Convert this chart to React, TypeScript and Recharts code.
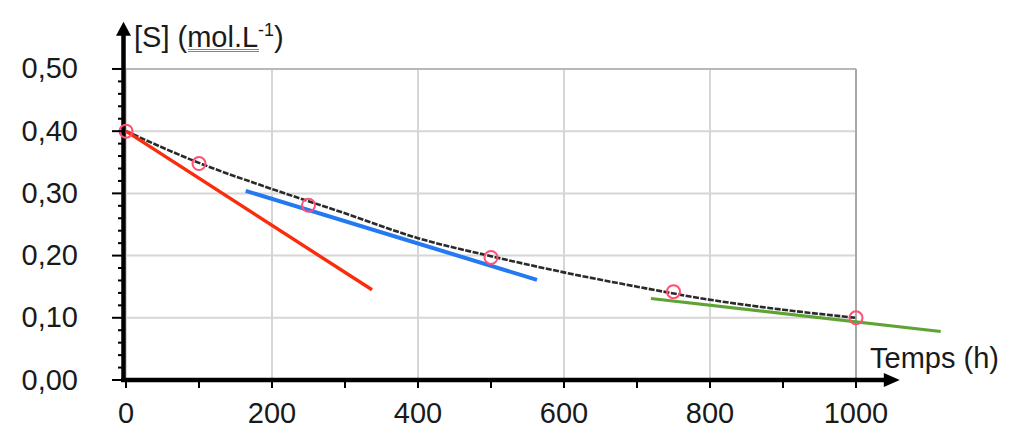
import React from 'react';
import { ComposedChart, Line, Scatter, XAxis, YAxis, ReferenceLine } from 'recharts';

// measured points (red circles)
const measures = [
  { x: 0, y: 0.4 },
  { x: 100, y: 0.348 },
  { x: 250, y: 0.281 },
  { x: 500, y: 0.197 },
  { x: 750, y: 0.142 },
  { x: 1000, y: 0.1 },
];

// smoothed curve through the points (black dashed)
const curveX = [0, 100, 200, 300, 400, 500, 600, 700, 800, 900, 1000];
const curveY = [0.4, 0.349, 0.307, 0.268, 0.228, 0.199, 0.173, 0.15, 0.129, 0.113, 0.1];

// tangents
const redTangent = [
  { x: 0, y: 0.4 },
  { x: 337, y: 0.145 },
];
const blueTangent = [
  { x: 164, y: 0.304 },
  { x: 563, y: 0.161 },
];
const greenTangent = [
  { x: 719, y: 0.131 },
  { x: 1116, y: 0.078 },
];

const xTicks = [0, 100, 200, 300, 400, 500, 600, 700, 800, 900, 1000];
const xLabelTicks = [0, 200, 400, 600, 800, 1000];
const yMajorTicks = [0, 0.1, 0.2, 0.3, 0.4, 0.5];
const yTicks = [
  0, 0.02, 0.04, 0.06, 0.08, 0.1, 0.12, 0.14, 0.16, 0.18, 0.2, 0.22, 0.24, 0.26,
  0.28, 0.3, 0.32, 0.34, 0.36, 0.38, 0.4, 0.42, 0.44, 0.46, 0.48, 0.5,
];
const gridX = [0, 200, 400, 600, 800];
const gridY = [0.1, 0.2, 0.3, 0.4];

const FONT = '"Liberation Sans", Arial, sans-serif';
const FS = 29;

const curve = curveX.map((x, i) => ({ x, y: curveY[i] }));

const fmtY = (v: number) => v.toFixed(2).replace('.', ',');

const YTick = (props: any) => {
  const { x, y, payload } = props;
  const major = yMajorTicks.includes(payload.value);
  return (
    <g>
      <line x1={x - (major ? 14 : 8)} x2={x - 3} y1={y} y2={y} stroke="#000" strokeWidth={2} />
      {major && (
        <text x={x - 48} y={y + 9.5} textAnchor="end" fontSize={FS} fontFamily={FONT} fill="#1a1a1a">
          {fmtY(payload.value)}
        </text>
      )}
    </g>
  );
};

const XTick = (props: any) => {
  const { x, y, payload } = props;
  const showLabel = xLabelTicks.includes(payload.value);
  return (
    <g>
      <line x1={x} x2={x} y1={y} y2={y + 8} stroke="#000" strokeWidth={2} />
      {showLabel && (
        <text x={x} y={y + 43} textAnchor="middle" fontSize={FS} fontFamily={FONT} fill="#1a1a1a">
          {payload.value}
        </text>
      )}
    </g>
  );
};

// axis line with arrow head at the end of the segment
const upArrow = (p: any) => {
  const { x1, y1, y2 } = p;
  const x = x1 - 2.5;
  return (
    <g>
      <line x1={x} y1={y1 + 2} x2={x} y2={y2 + 12} stroke="#000" strokeWidth={4.5} />
      <polygon points={`${x},${y2} ${x - 7.5},${y2 + 14} ${x + 7.5},${y2 + 14}`} fill="#000" />
    </g>
  );
};

const rightArrow = (p: any) => {
  const { x1, y1, x2 } = p;
  const y = y1;
  return (
    <g>
      <line x1={x1 - 5} y1={y} x2={x2 - 13} y2={y} stroke="#000" strokeWidth={4.5} />
      <polygon points={`${x2},${y} ${x2 - 16},${y - 7} ${x2 - 16},${y + 7}`} fill="#000" />
    </g>
  );
};

const Ring = (props: any) => {
  const { cx, cy } = props;
  return <circle cx={cx} cy={cy} r={6.5} fill="none" stroke="#ff4f73" strokeWidth={2} />;
};

export default function App() {
  return (
    <div style={{ position: 'relative', width: 1008, height: 425, fontFamily: FONT }}>
      <ComposedChart width={1008} height={425} margin={{ top: 11.2, right: 57.8, bottom: 8, left: 58 }}>
        <XAxis
          type="number"
          dataKey="x"
          domain={[0, 1140]}
          ticks={xTicks}
          interval={0}
          tick={<XTick />}
          tickSize={0}
          tickMargin={0}
          axisLine={false}
          tickLine={false}
          height={45}
        />
        <YAxis
          type="number"
          dataKey="y"
          domain={[0, 0.58]}
          ticks={yTicks}
          interval={0}
          tick={<YTick />}
          tickSize={0}
          tickMargin={0}
          axisLine={false}
          tickLine={false}
          width={60}
        />

        {gridX.map((gx) => (
          <ReferenceLine key={`gx-${gx}`} segment={[{ x: gx, y: 0 }, { x: gx, y: 0.5 }]} stroke="#d6d6d6" strokeWidth={2} />
        ))}
        {gridY.map((gy) => (
          <ReferenceLine key={`gy-${gy}`} segment={[{ x: 0, y: gy }, { x: 1000, y: gy }]} stroke="#d6d6d6" strokeWidth={2} />
        ))}
        <ReferenceLine segment={[{ x: 0, y: 0.5 }, { x: 1000, y: 0.5 }]} stroke="#b8b8b8" strokeWidth={2} />
        <ReferenceLine segment={[{ x: 1000, y: 0 }, { x: 1000, y: 0.5 }]} stroke="#a8a8a8" strokeWidth={2} />

        <ReferenceLine segment={[{ x: 0, y: 0 }, { x: 0, y: 0.576 }]} shape={upArrow} />
        <ReferenceLine segment={[{ x: 0, y: 0 }, { x: 1060, y: 0 }]} shape={rightArrow} />

        <Line data={curve} dataKey="y" type="monotone" stroke="#2a2a2a" strokeWidth={2.6} strokeDasharray="6 1.5" dot={false} isAnimationActive={false} />
        <Line data={redTangent} dataKey="y" type="linear" stroke="#fb2c0c" strokeWidth={3.4} dot={false} isAnimationActive={false} />
        <Line data={blueTangent} dataKey="y" type="linear" stroke="#2478f2" strokeWidth={4} dot={false} isAnimationActive={false} />
        <Line data={greenTangent} dataKey="y" type="linear" stroke="#5fa335" strokeWidth={3.2} dot={false} isAnimationActive={false} />
        <Scatter data={measures} dataKey="y" shape={<Ring />} isAnimationActive={false} />
      </ComposedChart>

      <svg width={1008} height={425} style={{ position: 'absolute', left: 0, top: 0, pointerEvents: 'none' }}>
        <text x={126} y={39} fontSize={FS} fontFamily={FONT} fill="#1a1a1a">
          [S] (mol.L<tspan fontSize={18} dy={-11}>-1</tspan>
          <tspan dy={11}>)</tspan>
        </text>
        <line x1={180} x2={251} y1={41.5} y2={41.5} stroke="#4a8fe0" strokeWidth={1.2} />
        <line x1={180} x2={251} y1={43.5} y2={43.5} stroke="#4a8fe0" strokeWidth={1.2} />
        <text x={862} y={360} fontSize={FS} fontFamily={FONT} fill="#1a1a1a">
          Temps (h)
        </text>
      </svg>
    </div>
  );
}
